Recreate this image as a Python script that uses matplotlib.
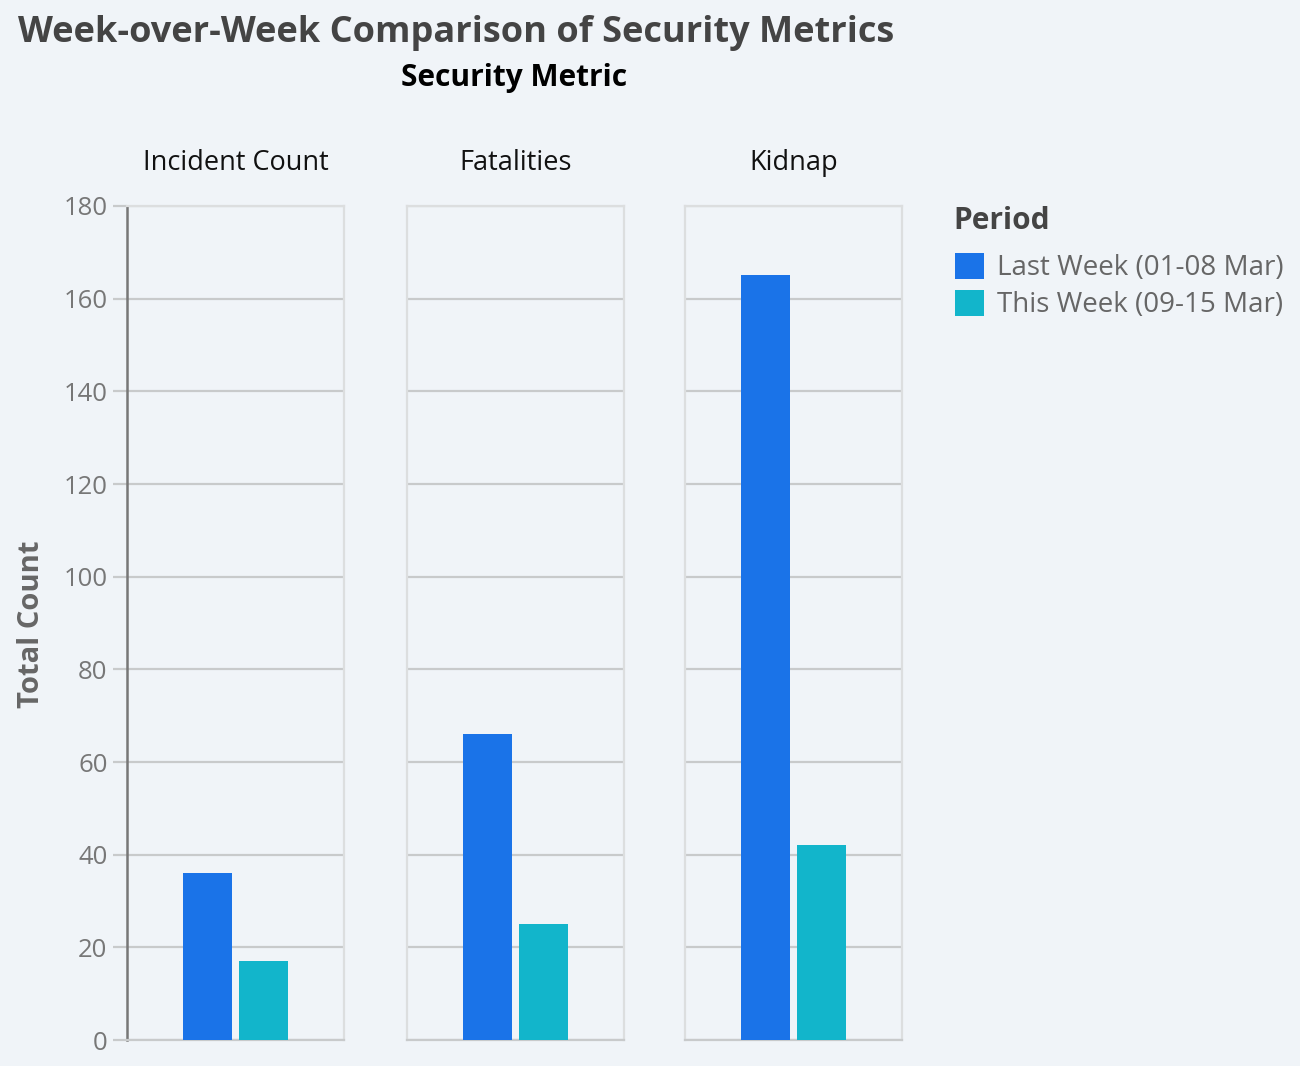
import numpy as np
import matplotlib
matplotlib.use('Agg')
import matplotlib.pyplot as plt
from matplotlib.patches import Patch

plt.rcParams['font.family'] = ['Open Sans', 'DejaVu Sans']

# Data
metrics = ['Incident Count', 'Fatalities', 'Kidnap']
periods = ['Last Week (01-08 Mar)', 'This Week (09-15 Mar)']
last_week = [36, 66, 165]
this_week = [17, 25, 42]
colors = ['#1a73e8', '#12b5cb']
y_ticks = [0, 20, 40, 60, 80, 100, 120, 140, 160, 180]

BG = '#f0f4f8'
W, H = 1300, 1066

fig = plt.figure(figsize=(13, 10.66), dpi=100, facecolor=BG)

panel_left = [127, 407, 685]
panel_w = 217
top, bottom = 206, 1040

for i, metric in enumerate(metrics):
    ax = fig.add_axes([panel_left[i] / W, 1 - bottom / H, panel_w / W, (bottom - top) / H])
    ax.set_facecolor(BG)
    vals = [last_week[i], this_week[i]]
    ax.bar([0, 1], vals, width=0.89, color=colors, zorder=3)
    ax.set_xlim(-1.446, 2.446)
    ax.set_ylim(0, 180)
    ax.set_yticks(y_ticks)
    ax.set_xticks([])
    ax.grid(axis='y', color='#c8cacb', linewidth=1.6, zorder=1)
    for side in ['top', 'right', 'left', 'bottom']:
        ax.spines[side].set_color('#dcdedf')
        ax.spines[side].set_linewidth(1.6)
    ax.spines['bottom'].set_color('#c8cacb')
    ax.set_title(metric, fontsize=19.5, color='#111111', pad=26)
    if i == 0:
        ax.spines['left'].set_color('#777777')
        ax.spines['left'].set_linewidth(1.8)
        ax.tick_params(axis='y', length=10, width=1.6, color='#c8cacb',
                       labelsize=18.5, labelcolor='#777777', pad=4)
    else:
        ax.tick_params(axis='y', length=0, labelleft=False)

fig.text(32 / W, 1 - 624 / H, 'Total Count', fontsize=21, fontweight='bold',
         color='#666666', rotation=90, ha='center', va='center')
fig.text(18 / W, 1 - 33 / H, 'Week-over-Week Comparison of Security Metrics',
         fontsize=26, fontweight='bold', color='#444444', ha='left', va='center')
fig.text(514 / W, 1 - 78 / H, 'Security Metric', fontsize=21.5, fontweight='bold',
         color='#000000', ha='center', va='center')

# legend
fig.text(953 / W, 1 - 221 / H, 'Period', fontsize=21.5, fontweight='bold',
         color='#444444', ha='left', va='center')
handles = [Patch(facecolor=c, edgecolor='none') for c in colors]
fig.legend(handles, periods, loc='upper left', bbox_to_anchor=(930 / W, 1 - 228 / H),
           frameon=False, fontsize=20, labelcolor='#666666',
           handlelength=1.05, handleheight=1.05, handletextpad=0.45, labelspacing=0.27)

fig.savefig('out.png', dpi=100, facecolor=BG)
